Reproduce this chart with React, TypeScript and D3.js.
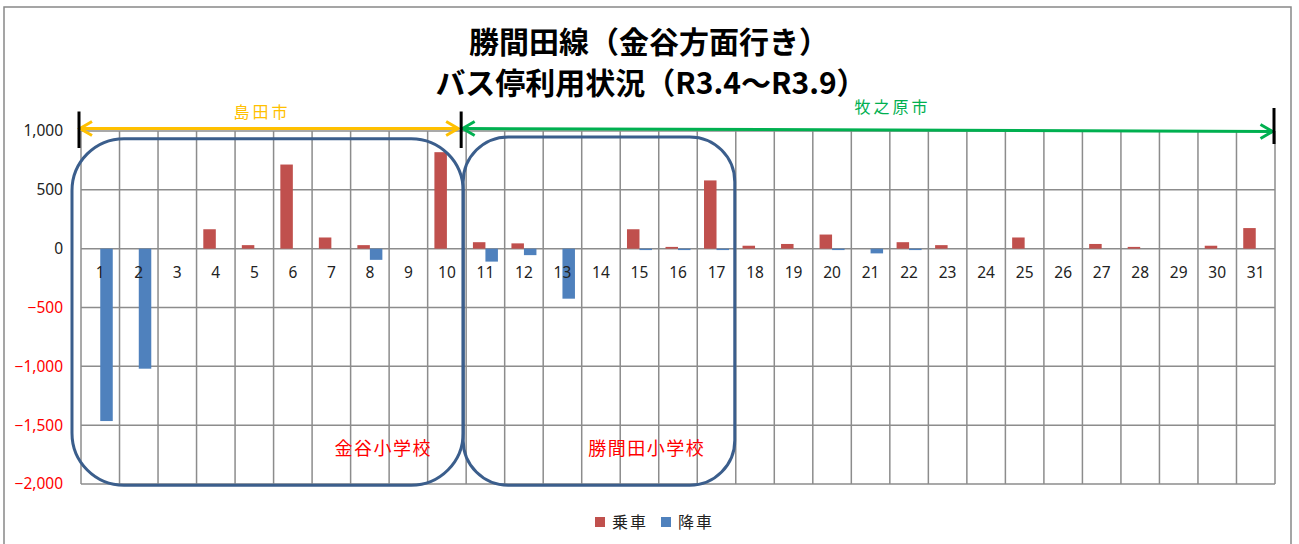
import React from 'react';
import * as d3 from 'd3';

// bus stop numbers (categories)
const stops = ['1', '2', '3', '4', '5', '6', '7', '8', '9', '10', '11', '12', '13', '14', '15', '16',
  '17', '18', '19', '20', '21', '22', '23', '24', '25', '26', '27', '28', '29', '30', '31'];
// 乗車 (boarding)
const boarding = [0, 0, 0, 165, 30, 715, 95, 30, 0, 820, 55, 45, 0, 0, 165, 15,
  580, 25, 40, 120, 0, 55, 30, 0, 95, 0, 40, 15, 0, 25, 175];
// 降車 (alighting, shown negative)
const alighting = [-1465, -1020, 0, 0, 0, 0, 0, -95, 0, 0, -110, -55, -425, 0, -12, -12,
  -12, 0, 0, -12, -40, -12, 0, 0, 0, 0, 0, 0, 0, 0, 0];
const yTicks = [1000, 500, 0, -500, -1000, -1500, -2000];

const seriesNames = ['乗車', '降車'];
const seriesColors = ['#C0504D', '#4F81BD'];

const cityNames = ['島田市', '牧之原市'];
const cityColors = ['#FFC000', '#00B050'];

const schoolNames = ['金谷小学校', '勝間田小学校'];
const schoolFrom = ['1', '11'];
const schoolTo = ['10', '17'];
const schoolTop = [935, 950];

const W = 1299;
const H = 544;
const jp = '"Noto Sans CJK JP", "Noto Sans", sans-serif';
const num = '"Noto Sans", "Liberation Sans", sans-serif';

export default function App() {
  const margin = { left: 81, right: 24, top: 131, bottom: 60 };
  const x = d3.scaleBand<string>().domain(stops).range([margin.left, W - margin.right]).padding(0);
  const bw = x.bandwidth();
  const y = d3.scaleLinear().domain([-2000, 1000]).range([H - margin.bottom, margin.top]);
  const groupW = 25;
  const inner = d3.scaleBand<number>().domain([0, 1]).range([(bw - groupW) / 2, (bw + groupW) / 2]);
  const series = [boarding, alighting];
  const grid = '#8C8C8C';
  const right = W - margin.right;
  const boundary = (s: string) => x(s) as number;
  const endOf = (s: string) => (x(s) as number) + bw;

  // divider bars between cities
  const dividers = [boundary('1') - 2, boundary('11') - 5, endOf('31') - 1];
  const arrowY = y(1000) - 2.5;

  const chevron = (x0: number, y0: number, dir: number) =>
    `M${x0 + dir * 12},${y0 - 7} L${x0},${y0} L${x0 + dir * 12},${y0 + 7}`;

  return (
    <svg width={W} height={H} style={{ position: 'absolute', left: 0, top: 0, background: '#fff' }}>
      {/* frame */}
      <path d={`M4,${H + 2} V7 H1291 V${H + 2}`} fill="none" stroke="#888" strokeWidth={1.5} />

      {/* title */}
      <text x={649} y={53} textAnchor="middle" fontFamily={jp} fontWeight={700} fontSize={30} fill="#000">
        勝間田線（金谷方面行き）
      </text>
      <text x={651} y={94} textAnchor="middle" fontFamily={jp} fontWeight={700} fontSize={30} fill="#000">
        バス停利用状況（R3.4～R3.9）
      </text>

      {/* grid */}
      {yTicks.map(t => (
        <line key={'h' + t} x1={margin.left} x2={right} y1={y(t)} y2={y(t)} stroke={grid} strokeWidth={1.5} />
      ))}
      {stops.map(s => (
        <line key={'v' + s} x1={boundary(s)} x2={boundary(s)} y1={y(1000)} y2={y(-2000)} stroke={grid} strokeWidth={1.5} />
      ))}
      <line x1={right} x2={right} y1={y(1000)} y2={y(-2000)} stroke={grid} strokeWidth={1.5} />

      {/* y tick labels */}
      {yTicks.map(t => (
        <text key={'t' + t} x={margin.left - 18} y={y(t)} dy="0.35em" textAnchor="end" fontFamily={num}
          fontSize={15.5} fill={t < 0 ? '#FF0000' : '#222'}>
          {d3.format(',')(t)}
        </text>
      ))}

      {/* bars */}
      {series.map((vals, si) =>
        vals.map((v, i) => {
          if (v === 0) return null;
          const x0 = boundary(stops[i]) + (inner(si) as number);
          return (
            <rect key={si + '-' + i} x={x0} width={inner.bandwidth()} y={y(Math.max(0, v))}
              height={Math.abs(y(v) - y(0))} fill={seriesColors[si]} />
          );
        })
      )}

      {/* category labels */}
      {stops.map(s => (
        <text key={'c' + s} x={boundary(s) + bw / 2} y={y(0) + 24} dy="0.35em" textAnchor="middle"
          fontFamily={num} fontSize={15.5} fill="#222">
          {s}
        </text>
      ))}

      {/* school boxes */}
      {schoolNames.map((n, i) => {
        const l = i === 0 ? boundary(schoolFrom[i]) - 9 : boundary(schoolFrom[i]) - 3;
        const r = i === 0 ? boundary(stops[stops.indexOf(schoolTo[i]) + 1]) - 3 : endOf(schoolTo[i]) - 1;
        const t = y(schoolTop[i]);
        const b = y(-2010);
        const rx = i === 0 ? 52 : 45;
        return (
          <g key={'s' + n}>
            <rect x={l} y={t} width={r - l} height={b - t} rx={rx} ry={rx} fill="none" stroke="#3B5E8C" strokeWidth={3} />
            <text x={r - (i === 0 ? 80 : 88)} y={y(-1700)} dy="0.35em" textAnchor="middle" fontFamily={jp}
              fontSize={18} letterSpacing={1.5} fill="#FF0000">{n}</text>
          </g>
        );
      })}

      {/* city range arrows */}
      {cityNames.map((n, i) => {
        const x0 = dividers[i] + (i === 0 ? 1 : 1.5);
        const x1 = dividers[i + 1] - (i === 0 ? 3 : 1.5);
        const ya = arrowY;
        const yb = arrowY + (i === 0 ? 0 : 3);
        const c = cityColors[i];
        return (
          <g key={'c' + n} fill="none" stroke={c} strokeWidth={3} strokeLinejoin="miter">
            <line x1={x0} x2={x1} y1={ya} y2={yb} />
            <path d={chevron(x0, ya, 1)} />
            <path d={chevron(x1, yb, -1)} />
            <text x={(x0 + x1) / 2 + (i === 0 ? -7 : 25)} y={i === 0 ? 112 : 107} dy="0.35em" textAnchor="middle"
              fontFamily={jp} fontSize={16} letterSpacing={3} fill={c} stroke="none">{n}</text>
          </g>
        );
      })}
      {dividers.map((d, i) => (
        <line key={'d' + i} x1={d} x2={d} y1={i === 2 ? 108 : 111.5} y2={i === 2 ? 144 : 148} stroke="#000" strokeWidth={3} />
      ))}

      {/* legend */}
      {seriesNames.map((n, i) => (
        <g key={'l' + n} transform={`translate(${595 + i * 66},${522})`}>
          <rect x={0} y={-5} width={10} height={10} fill={seriesColors[i]} />
          <text x={17} y={0} dy="0.35em" fontFamily={jp} fontSize={16} letterSpacing={2} fill="#222">{n}</text>
        </g>
      ))}
    </svg>
  );
}
